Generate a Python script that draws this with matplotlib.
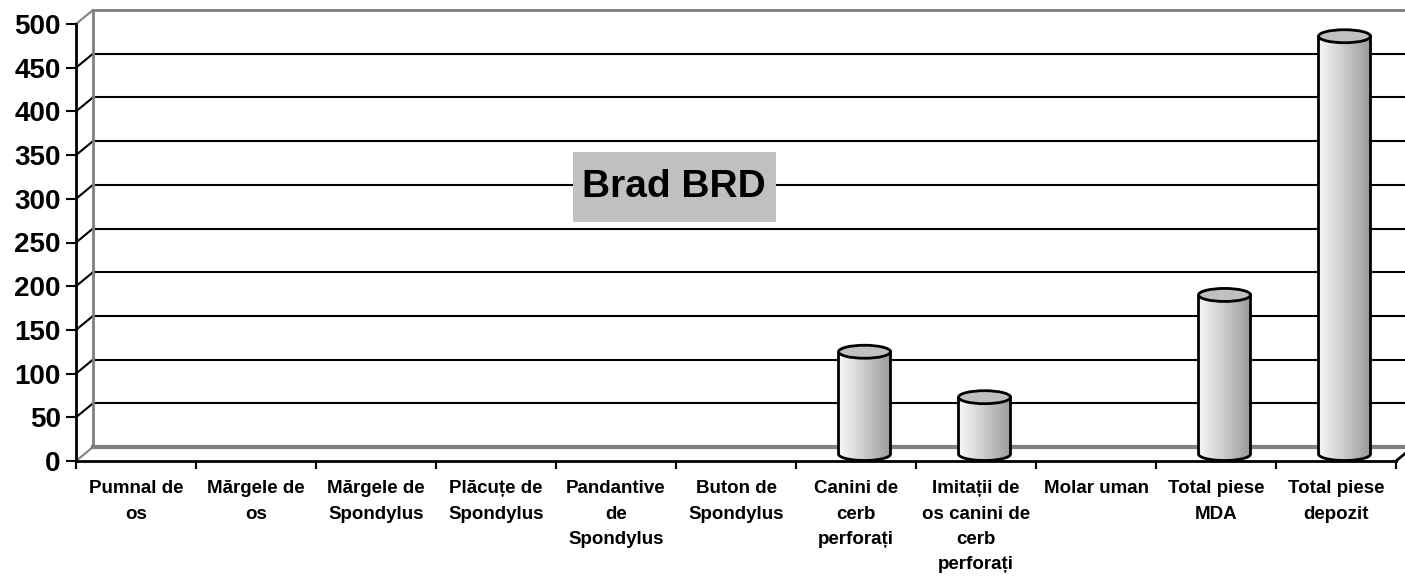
import numpy as np
import matplotlib as mpl
import matplotlib.pyplot as plt
from matplotlib.patches import Ellipse, PathPatch, Rectangle
from matplotlib.path import Path

categories = ["Pumnal de\nos", "Mărgele de\nos", "Mărgele de\nSpondylus", "Plăcuțe de\nSpondylus",
              "Pandantive\nde\nSpondylus", "Buton de\nSpondylus", "Canini de\ncerb\nperforați",
              "Imitații de\nos canini de\ncerb\nperforați", "Molar uman", "Total piese\nMDA",
              "Total piese\ndepozit"]
values = [0, 0, 0, 0, 0, 0, 117, 65, 0, 182, 478]
yticks = [0, 50, 100, 150, 200, 250, 300, 350, 400, 450, 500]
title = "Brad BRD"

mpl.rcParams['font.family'] = ['Liberation Sans', 'DejaVu Sans']
mpl.rcParams['font.weight'] = 'bold'

W, H = 1405, 580
fig = plt.figure(figsize=(W / 100, H / 100), dpi=100)
# front plane of the 3d box: x 76..1396 px, y 461..24 px (from top)
ax = fig.add_axes([76 / W, (H - 461) / H, 1320 / W, 437 / H])
n = len(categories)

px_x = 1320 / n          # px per category
px_y = 437 / 500         # px per unit
dx = 17 / px_x           # depth offset
dy = 14 / px_y

# back wall gridlines + diagonals
for v in yticks:
    col = '#808080' if v in (0, 500) else 'black'
    lw = 3 if v == 0 else (2 if v == 500 else 1.5)
    ax.plot([dx, n + dx], [v + dy, v + dy], color=col, lw=lw, clip_on=False, zorder=1)
    ax.plot([0, dx], [v, v + dy], color=col, lw=1.5, clip_on=False, zorder=1)
ax.plot([dx, dx], [dy, 500 + dy], color='#808080', lw=2, clip_on=False, zorder=1)
ax.plot([n, n + dx], [0, dy], color='black', lw=2, clip_on=False, zorder=3)

# cylinders
cw = 52 / px_x
eh = 13 / px_y
grad = np.linspace(0.97, 0.6, 64).reshape(1, -1)
for i, v in enumerate(values):
    if v <= 0:
        continue
    cx = i + 0.5 + dx / 2
    y0 = dy / 2
    y1 = v + dy / 2
    t = np.linspace(np.pi, 2 * np.pi, 40)
    bx = cx + cw / 2 * np.cos(t)
    by = y0 + eh / 2 * np.sin(t)
    verts = [(cx - cw / 2, y1)] + list(zip(bx, by)) + [(cx + cw / 2, y1), (cx - cw / 2, y1)]
    body = PathPatch(Path(verts), facecolor='none', edgecolor='black', lw=2, zorder=4)
    ax.add_patch(body)
    im = ax.imshow(grad, cmap='gray', vmin=0, vmax=1, aspect='auto',
                   extent=[cx - cw / 2, cx + cw / 2, y0 - eh, y1], zorder=3, interpolation='bilinear')
    im.set_clip_path(body)
    ax.add_patch(Ellipse((cx, y1), cw, eh, facecolor='#c0c0c0', edgecolor='black', lw=2, zorder=5))

ax.set_xlim(0, n)
ax.set_ylim(0, 500)

for s in ('top', 'right'):
    ax.spines[s].set_visible(False)
ax.spines['left'].set_linewidth(2)
ax.spines['bottom'].set_linewidth(2)
ax.spines['left'].set_zorder(6)
ax.spines['bottom'].set_zorder(6)

ax.set_yticks(yticks)
ax.tick_params(axis='y', length=7, width=1.5, pad=4, labelsize=20)
ax.set_xticks(np.arange(n + 1))
ax.set_xticklabels([])
ax.tick_params(axis='x', which='major', length=6, width=1.5)
ax.set_xticks(np.arange(n) + 0.5, minor=True)
ax.set_xticklabels(categories, minor=True, fontsize=13.5, linespacing=1.62)
ax.tick_params(axis='x', which='minor', length=0, pad=14)

# title in gray box
fig.patches.append(Rectangle((573 / W, 1 - 222 / H), 203 / W, 70 / H, transform=fig.transFigure,
                             facecolor='#c0c0c0', edgecolor='none', zorder=9))
fig.text(674 / W, 1 - 187 / H, title, fontsize=28, fontweight='bold', ha='center', va='center', zorder=10)

fig.savefig('out.png', dpi=100)
